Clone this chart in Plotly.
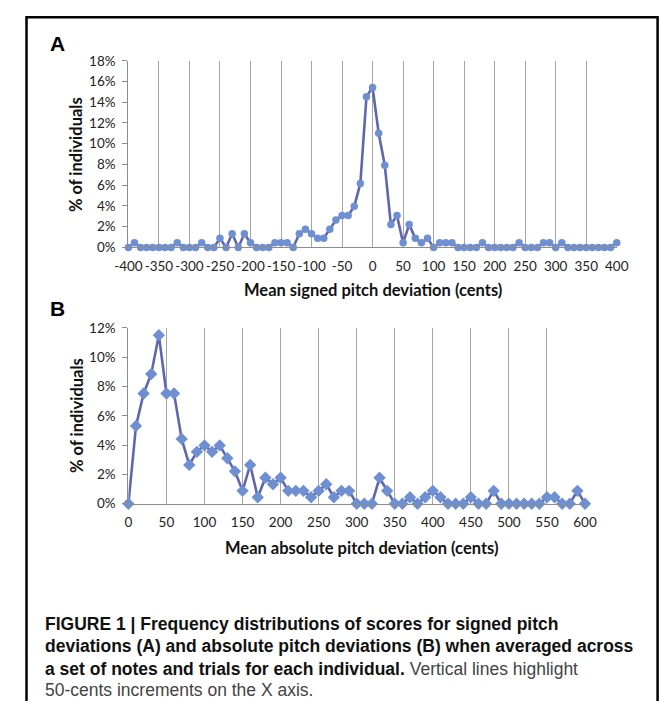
import plotly.graph_objects as go

# Panel A: mean signed pitch deviation (cents) vs % of individuals
signed_cents = list(range(-400, 401, 10))
signed_pct = [
    0, 0.44, 0, 0, 0, 0, 0, 0, 0.44, 0,          # -400 .. -310
    0, 0, 0.44, 0, 0, 0.88, 0, 1.32, 0, 1.32,    # -300 .. -210
    0.44, 0, 0, 0, 0.44, 0.44, 0.44, 0, 1.32, 1.76,  # -200 .. -110
    1.32, 0.88, 0.88, 1.76, 2.64, 3.08, 3.08, 3.96, 6.17, 14.54,  # -100 .. -10
    15.42, 11.01, 7.93, 2.20, 3.08, 0.44, 2.20, 0.88, 0.44, 0.88,  # 0 .. 90
    0, 0.44, 0.44, 0.44, 0, 0, 0, 0, 0.44, 0,    # 100 .. 190
    0, 0, 0, 0, 0.44, 0, 0, 0, 0.44, 0.44,       # 200 .. 290
    0, 0.44, 0, 0, 0, 0, 0, 0, 0, 0,             # 300 .. 390
    0.44,                                         # 400
]
signed_ticks = list(range(-400, 401, 50))
signed_pct_ticks = list(range(0, 19, 2))

# Panel B: mean absolute pitch deviation (cents) vs % of individuals
abs_cents = list(range(0, 601, 10))
abs_pct = [
    0, 5.31, 7.52, 8.85, 11.50, 7.52, 7.52, 4.42, 2.65, 3.54,   # 0 .. 90
    3.98, 3.54, 3.98, 3.10, 2.21, 0.88, 2.65, 0.44, 1.77, 1.33, # 100 .. 190
    1.77, 0.88, 0.88, 0.88, 0.44, 0.88, 1.33, 0.44, 0.88, 0.88, # 200 .. 290
    0, 0, 0, 1.77, 0.88, 0, 0, 0.44, 0, 0.44,                   # 300 .. 390
    0.88, 0.44, 0, 0, 0, 0.44, 0, 0, 0.88, 0,                   # 400 .. 490
    0, 0, 0, 0, 0, 0.44, 0.44, 0, 0, 0.88,                      # 500 .. 590
    0,                                                           # 600
]
abs_ticks = list(range(0, 601, 50))
abs_pct_ticks = list(range(0, 13, 2))

W, H = 672, 701
LINE = "#5F66AE"
MARK = "#6E90D2"
GRID = "#A6A6A6"
AXIS = "#8C8C8C"
TICKFONT = dict(family="Lato", size=13.5, color="#222")
TITLEFONT = dict(family="Lato", size=16.5, color="#111")


def px_x(p):
    return p / W


def px_y(p):
    return 1 - p / H


fig = go.Figure()

fig.add_trace(go.Scatter(
    x=signed_cents, y=signed_pct, mode="lines+markers",
    line=dict(color=LINE, width=2.6),
    marker=dict(symbol="circle", size=7.5, color=MARK),
    xaxis="x", yaxis="y", showlegend=False, cliponaxis=False,
))
fig.add_trace(go.Scatter(
    x=abs_cents, y=abs_pct, mode="lines+markers",
    line=dict(color=LINE, width=2.6),
    marker=dict(symbol="diamond", size=9.5, color=MARK),
    xaxis="x2", yaxis="y2", showlegend=False, cliponaxis=False,
))

common_x = dict(
    showgrid=True, gridcolor=GRID, gridwidth=1.3,
    showline=True, linecolor=AXIS, linewidth=1.3,
    zeroline=False, ticks="", tickfont=TICKFONT, tickangle=0,
    tickmode="array", ticklabelstandoff=6,
)
common_y = dict(
    showgrid=False, showline=True, linecolor=AXIS, linewidth=1.3,
    zeroline=False, ticks="outside", ticklen=5, tickcolor=AXIS,
    tickwidth=1.3, tickfont=TICKFONT, tickmode="array",
    ticklabelstandoff=4,
)

fig.update_layout(
    width=W, height=H,
    margin=dict(l=0, r=0, t=0, b=0),
    paper_bgcolor="white", plot_bgcolor="white",
    xaxis=dict(common_x, domain=[px_x(119), px_x(627)], range=[-400, 400],
               tickvals=signed_ticks, ticktext=[str(v) for v in signed_ticks],
               anchor="y"),
    yaxis=dict(common_y, domain=[px_y(245), px_y(54)], range=[0, 18],
               tickvals=signed_pct_ticks,
               ticktext=[f"{v}%" for v in signed_pct_ticks], anchor="x"),
    xaxis2=dict(common_x, domain=[px_x(119), px_x(594)], range=[0, 600],
                tickvals=abs_ticks, ticktext=[str(v) for v in abs_ticks],
                anchor="y2"),
    yaxis2=dict(common_y, domain=[px_y(507.3), px_y(327.3)], range=[0, 12],
                tickvals=abs_pct_ticks,
                ticktext=[f"{v}%" for v in abs_pct_ticks], anchor="x2"),
)

annotations = [
    # panel letters
    dict(text="<b>A</b>", x=px_x(45), y=px_y(36), font=dict(family="Liberation Sans", size=21, color="black")),
    dict(text="<b>B</b>", x=px_x(45), y=px_y(308), font=dict(family="Liberation Sans", size=21, color="black")),
    # axis titles
    dict(text="<b>% of individuals</b>", x=px_x(64), y=px_y(150), textangle=-90, font=TITLEFONT),
    dict(text="<b>Mean signed pitch deviation (cents)</b>", x=px_x(373), y=px_y(289), font=TITLEFONT),
    dict(text="<b>% of individuals</b>", x=px_x(66), y=px_y(417), textangle=-90, font=TITLEFONT),
    dict(text="<b>Mean absolute pitch deviation (cents)</b>", x=px_x(362), y=px_y(553), font=TITLEFONT),
]
for a in annotations:
    a.update(xref="paper", yref="paper", showarrow=False, xanchor="center", yanchor="middle")

CAPFONT = dict(family="Liberation Sans", size=17.5, color="#111")
caption_lines = [
    "<b>FIGURE 1 | Frequency distributions of scores for signed pitch</b>",
    "<b>deviations (A) and absolute pitch deviations (B) when averaged across</b>",
    "<b>a set of notes and trials for each individual.</b> <span style='color:#444'>Vertical lines highlight</span>",
    "<span style='color:#444'>50-cents increments on the X axis.</span>",
]
caption_y = [630, 653, 676, 698]
for txt, yy in zip(caption_lines, caption_y):
    annotations.append(dict(
        text=txt, x=px_x(30), y=px_y(yy), xref="paper", yref="paper",
        showarrow=False, xanchor="left", yanchor="middle", align="left",
        font=CAPFONT,
    ))

fig.update_layout(annotations=annotations)

# outer frame around the figure panel
fig.add_shape(type="rect", xref="paper", yref="paper",
              x0=px_x(13), x1=px_x(669.5), y0=px_y(740), y1=px_y(9.5),
              line=dict(color="black", width=2.5), fillcolor="rgba(0,0,0,0)")

fig.write_html("out.html")
